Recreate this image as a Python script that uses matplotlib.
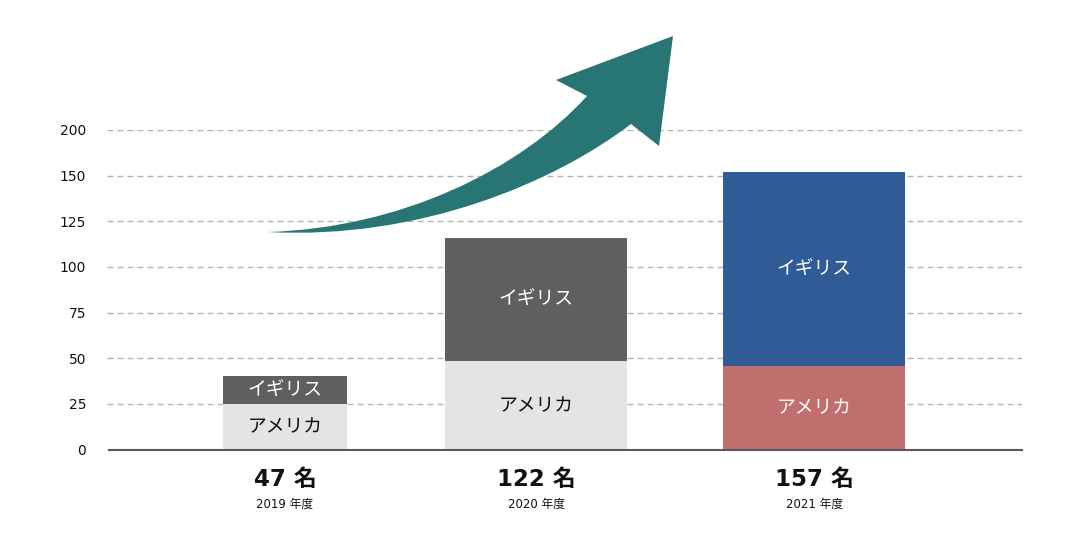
import matplotlib
matplotlib.use("Agg")
import matplotlib.pyplot as plt
from matplotlib.path import Path
from matplotlib.patches import PathPatch
from matplotlib import transforms

plt.rcParams['font.family'] = ['Noto Sans CJK JP', 'DejaVu Sans']
NUM_FONT = ['DejaVu Sans', 'Noto Sans CJK JP']

# ---- data ----
years = ["2019 年度", "2020 年度", "2021 年度"]
totals = ["47 名", "122 名", "157 名"]
usa = [25, 48.5, 45.7]
uk = [15, 67.3, 106.4]
usa_label = "アメリカ"
uk_label = "イギリス"
tick_vals = [0, 25, 50, 75, 100, 125, 150, 175]
tick_labels = ["0", "25", "50", "75", "100", "125", "150", "200"]

# ---- layout / style ----
xpos = [0, 0.949, 2]
widths = [0.469, 0.688, 0.688]
usa_colors = ["#e4e4e4", "#e4e4e4", "#c06e6e"]
uk_colors = ["#5e5f5e", "#5e5f5e", "#2f5b97"]
usa_text = ["#111111", "#111111", "white"]
uk_text = ["white", "white", "white"]
arrow_color = "#277674"

W, H = 1080, 541
fig = plt.figure(figsize=(W / 100, H / 100), dpi=100)
ax = fig.add_axes([107 / W, (H - 449.5) / H, (1022 - 107) / W, (449.5 - 130) / H])

ax.bar(xpos, usa, width=widths, color=usa_colors, zorder=2)
ax.bar(xpos, uk, width=widths, bottom=usa, color=uk_colors, zorder=2)

for i, xp in enumerate(xpos):
    ax.text(xp, usa[i] / 2, usa_label, ha='center', va='center', fontsize=13.5,
            color=usa_text[i], zorder=4)
    ax.text(xp, usa[i] + uk[i] / 2, uk_label, ha='center', va='center', fontsize=13.5,
            color=uk_text[i], zorder=4)
    ax.annotate(totals[i], xy=(xp, 0), xycoords=('data', 'axes fraction'),
                xytext=(0, -21.3), textcoords='offset points', ha='center', va='center',
                fontsize=16.5, fontweight='bold', color='#111111', family=NUM_FONT,
                annotation_clip=False)
    ax.annotate(years[i], xy=(xp, 0), xycoords=('data', 'axes fraction'),
                xytext=(0, -39.3), textcoords='offset points', ha='center', va='center',
                fontsize=8.5, color='#111111', family=NUM_FONT, annotation_clip=False)

ax.set_xlim(-0.673, 2.786)
ax.set_ylim(0, 175)
ax.set_yticks(tick_vals)
ax.set_yticklabels(tick_labels, fontsize=10, color='#111111', family=NUM_FONT)
ax.tick_params(axis='y', length=0, pad=15)
ax.set_xticks([])
for s in ax.spines.values():
    s.set_visible(False)

for v in tick_vals[1:]:
    ax.axhline(v, color='#b4b4b4', lw=1, dashes=(4.3, 2.9), zorder=1)
ax.plot([-0.665, 2.786], [0, 0], color='#5a5a5a', lw=1.5, zorder=3, clip_on=False)

# ---- decorative arrow (figure pixel coordinates, y downwards) ----
def P(px, py):
    return (px, H - py)

verts = [
    P(268, 232),
    P(400, 228), P(520, 170), P(587, 96),
    P(556, 80),
    P(673, 36),
    P(659, 146),
    P(631, 124),
    P(555, 182), P(420, 240), P(268, 232),
    P(268, 232),
]
codes = [Path.MOVETO,
         Path.CURVE4, Path.CURVE4, Path.CURVE4,
         Path.LINETO, Path.LINETO, Path.LINETO, Path.LINETO,
         Path.CURVE4, Path.CURVE4, Path.CURVE4,
         Path.CLOSEPOLY]
tr = transforms.Affine2D().scale(1 / W, 1 / H) + fig.transFigure
patch = PathPatch(Path(verts, codes), facecolor=arrow_color, edgecolor='none',
                  transform=tr, zorder=5)
fig.patches.append(patch)

fig.savefig("out.png", dpi=100, facecolor='white')
